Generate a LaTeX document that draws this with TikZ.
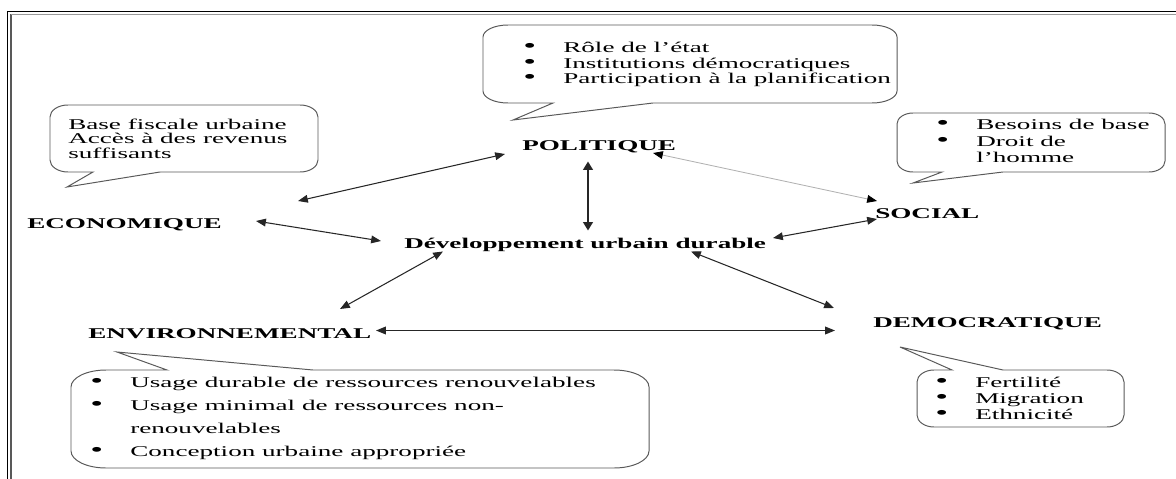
\documentclass[tikz,border=0pt]{standalone}
\usepackage{fontspec}
\usepackage{graphicx}
\setmainfont{Liberation Serif}[FakeStretch=1.82]
\usetikzlibrary{arrows.meta}

% speech bubble, tail leaving the bottom edge
% #1 left, #2 top, #3 right, #4 bottom, #5/#6 tail base, #7,#8 tail tip
\newcommand\bubbledown[8]{%
  \draw[bubble] (#6,#4) -- (#3-\crx,#4)
    .. controls +(0.55*\crx,0) and +(0,0.55*\cry) .. (#3,#4-\cry)
    -- (#3,#2+\cry)
    .. controls +(0,-0.55*\cry) and +(0.55*\crx,0) .. (#3-\crx,#2)
    -- (#1+\crx,#2)
    .. controls +(-0.55*\crx,0) and +(0,-0.55*\cry) .. (#1,#2+\cry)
    -- (#1,#4-\cry)
    .. controls +(0,0.55*\cry) and +(-0.55*\crx,0) .. (#1+\crx,#4)
    -- (#5,#4) -- (#7,#8) -- cycle;}
% speech bubble, tail leaving the top edge
\newcommand\bubbleup[8]{%
  \draw[bubble] (#6,#2) -- (#3-\crx,#2)
    .. controls +(0.55*\crx,0) and +(0,-0.55*\cry) .. (#3,#2+\cry)
    -- (#3,#4-\cry)
    .. controls +(0,0.55*\cry) and +(0.55*\crx,0) .. (#3-\crx,#4)
    -- (#1+\crx,#4)
    .. controls +(-0.55*\crx,0) and +(0,0.55*\cry) .. (#1,#4-\cry)
    -- (#1,#2+\cry)
    .. controls +(0,-0.55*\cry) and +(-0.55*\crx,0) .. (#1+\crx,#2)
    -- (#5,#2) -- (#7,#8) -- cycle;}
\newcommand\bul{\makebox[1cm][l]{\scalebox{1.35}{\textbullet}}}
\newcommand\nobul{\makebox[1cm][l]{}}

\begin{document}
\begin{tikzpicture}[x=0.025cm, y=-0.025cm,
  bubble/.style={draw=black!65, line width=0.7pt},
  heading/.style={inner sep=0, anchor=base west, font=\fontsize{10.6}{12}\selectfont\bfseries},
  txt/.style={inner sep=0, anchor=base west},
  link/.style={draw=black!85, line width=0.75pt, {Triangle[length=7pt,width=5.5pt]}-{Triangle[length=7pt,width=5.5pt]}}]
\useasboundingbox (0,0) rectangle (1176,479);

% page frame
\draw[black, line width=0.8pt] (7.5,479) -- (7.5,11.5) -- (1176,11.5);
\draw[black!65, line width=1.4pt] (11,479) -- (11,14.5);
\draw[black!40, line width=1.2pt] (11,14.5) -- (1176,14.5);

% bubbles
\def\crx{25}\def\cry{12}
\bubbledown{483}{25}{897}{103}{553}{653}{513}{120}
\def\crx{18}\def\cry{12}
\bubbledown{50}{105}{318}{172}{93}{160}{67}{187}
\def\crx{16}\def\cry{11}
\bubbledown{897}{113}{1165}{172}{942}{1003}{913}{183}
\def\crx{35}\def\cry{17}
\bubbleup{71}{370}{649}{468}{167}{313}{117}{352}
\def\crx{17}\def\cry{12}
\bubbleup{917}{370}{1124}{427}{952}{1003}{900}{347}

% bubble texts
\node[txt, font=\fontsize{10.6}{11.17}\selectfont] (poltxt) at (523,52.5)
  {\begin{tabular}[t]{@{}l@{}}\bul Rôle de l’état\\ \bul Institutions démocratiques\\ \bul Participation à la planification\end{tabular}};
\node[txt, font=\fontsize{10.6}{10.5}\selectfont] (ecotxt) at (68,129)
  {\begin{tabular}[t]{@{}l@{}}Base fiscale urbaine\\ Accès à des revenus\\ suffisants\end{tabular}};
\node[txt, font=\fontsize{10.6}{11.4}\selectfont] (soctxt) at (936,130)
  {\begin{tabular}[t]{@{}l@{}}\bul Besoins de base\\ \bul Droit de\\ \nobul l’homme\end{tabular}};
\node[txt, font=\fontsize{10.6}{16.5}\selectfont] (envtxt) at (90,387)
  {\begin{tabular}[t]{@{}l@{}}\bul Usage durable de ressources renouvelables\\ \bul Usage minimal de ressources non-\\ \nobul renouvelables\\ \bul Conception urbaine appropriée\end{tabular}};
\node[txt, font=\fontsize{10.6}{11.4}\selectfont] (demtxt) at (935,387.3)
  {\begin{tabular}[t]{@{}l@{}}\bul Fertilité\\ \bul Migration\\ \bul Ethnicité\end{tabular}};

% dimension labels
\node[heading] (pol) at (522,150) {POLITIQUE};
\node[heading] (eco) at (27,228) {ECONOMIQUE};
\node[heading] (soc) at (875,218) {SOCIAL};
\node[heading] (dev) at (404,248) {Développement urbain durable};
\node[heading] (env) at (88,338) {ENVIRONNEMENTAL};
\node[heading] (dem) at (873,327) {DEMOCRATIQUE};

% connector ends
\coordinate (ecoP) at (298,201);   \coordinate (polE) at (505,154);
\coordinate (ecoD) at (256,221);   \coordinate (devE) at (381,241);
\coordinate (polD) at (588,161.5); \coordinate (devP) at (588,230.5);
\coordinate (polS) at (653,153);   \coordinate (socP) at (877,201);
\coordinate (devS) at (773,238);   \coordinate (socD) at (877,219);
\coordinate (devV) at (443,251.5); \coordinate (envD) at (340,309);
\coordinate (devM) at (691,251.5); \coordinate (demD) at (834,308);
\coordinate (envM) at (376,330.5); \coordinate (demE) at (835,330.5);

% connectors
\draw[link] (ecoP) -- (polE);
\draw[link] (ecoD) -- (devE);
\draw[draw=black!85, line width=1.1pt, {Triangle[length=6pt,width=7pt]}-{Triangle[length=6pt,width=7pt]}] (polD) -- (devP);
\draw[line width=0.6pt, draw=black!30, {Triangle[length=7pt,width=5.5pt,color=black]}-{Triangle[length=7pt,width=5.5pt,color=black]}] (polS) -- (socP);
\draw[link] (devS) -- (socD);
\draw[link] (devV) -- (envD);
\draw[link] (devM) -- (demD);
\draw[link] (envM) -- (demE);
\end{tikzpicture}
\end{document}
